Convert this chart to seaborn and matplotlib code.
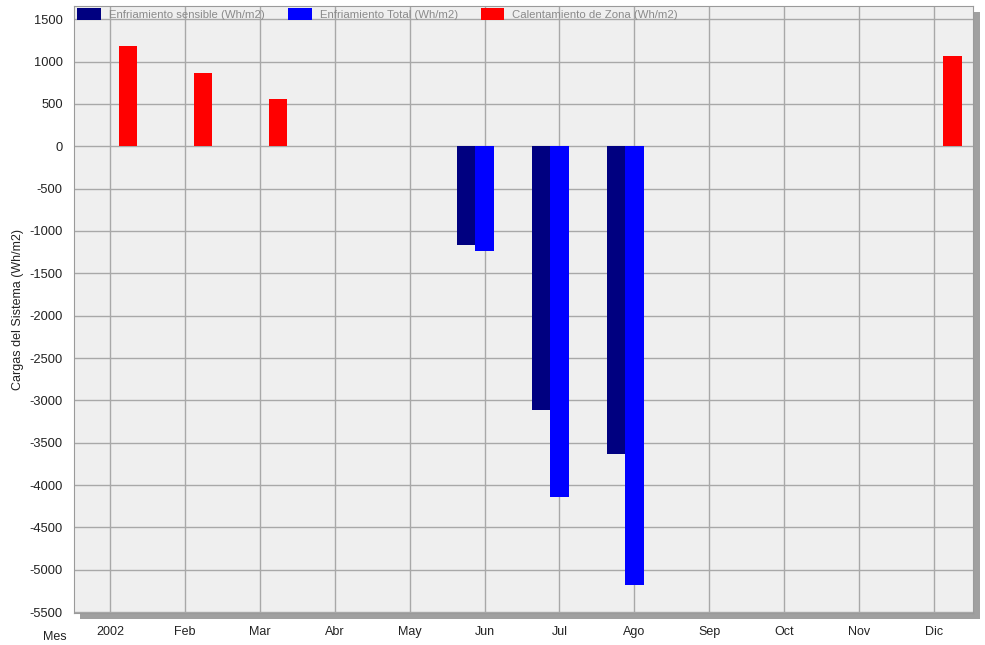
import pandas as pd
import seaborn as sns
import matplotlib.pyplot as plt
from matplotlib.patches import Rectangle

## data
meses = ["2002", "Feb", "Mar", "Abr", "May", "Jun", "Jul", "Ago", "Sep", "Oct", "Nov", "Dic"]
enfr_sensible = [None, None, None, None, None, -1160, -3110, -3635, None, None, None, None]
enfr_total = [None, None, None, None, None, -1235, -4140, -5175, None, None, None, None]
calentamiento = [1180, 865, 555, None, None, None, None, None, None, None, None, 1065]

series = ["Enfriamiento sensible (Wh/m2)", "Enfriamiento Total (Wh/m2)", "Calentamiento de Zona (Wh/m2)"]
colores = ["#000080", "#0000FF", "#FF0000"]

rows = []
for nombre, vals in zip(series, [enfr_sensible, enfr_total, calentamiento]):
    for m, v in zip(meses, vals):
        rows.append({"Mes": m, "serie": nombre, "valor": v})
df = pd.DataFrame(rows)

sns.set_style("whitegrid", {"axes.facecolor": "#EFEFEF", "grid.color": "#A8A8A8",
                            "axes.edgecolor": "#9A9A9A"})
plt.rcParams["font.family"] = ["Liberation Sans", "DejaVu Sans"]
plt.rcParams["axes.unicode_minus"] = False

fig = plt.figure(figsize=(9.85, 6.45), dpi=100)
ax = fig.add_axes([0.075, 0.0496, 0.913, 0.941])

# drop shadow behind the plot area
sombra = Rectangle((80 / 985, 1 - 619 / 645), 900 / 985, 607 / 645, transform=fig.transFigure,
                   facecolor="#A0A0A0", edgecolor="none", zorder=-1)
fig.patches.append(sombra)

sns.barplot(data=df, x="Mes", y="valor", hue="serie", order=meses, hue_order=series,
            palette=colores, width=0.735, saturation=1, errorbar=None, ax=ax, zorder=3,
            linewidth=0, edgecolor="none")

ax.set_xlim(-0.48, 11.52)
ax.set_ylim(-5510, 1655)
ax.set_yticks(range(-5500, 1501, 500))
ax.grid(True, axis="both", color="#A8A8A8", linewidth=1, zorder=0)
ax.set_axisbelow(True)
for s in ax.spines.values():
    s.set_linewidth(0.8)

ax.tick_params(axis="y", labelsize=9.3, colors="#9A9A9A", labelcolor="#222222", length=5, width=1, pad=3)
ax.tick_params(axis="x", labelsize=9, colors="#A8A8A8", labelcolor="#222222", length=6, width=1, pad=3)

ax.set_xlabel("")
ax.set_ylabel("Cargas del Sistema (Wh/m2)", fontsize=9, color="#222222", labelpad=4)
fig.text(55 / 985, 1 - 637 / 645, "Mes", fontsize=9, color="#222222", ha="center", va="center")

h, l = ax.get_legend_handles_labels()
leg = ax.legend(h, l, ncol=3, loc="upper left", bbox_to_anchor=(0.0, 1.003), frameon=False,
                fontsize=8.2, handlelength=2.1, handleheight=1.3, handletextpad=0.7,
                columnspacing=2.0, borderaxespad=0.2, borderpad=0.1)
for t in leg.get_texts():
    t.set_color("#8A8A8A")

plt.savefig("out.png", dpi=100)
